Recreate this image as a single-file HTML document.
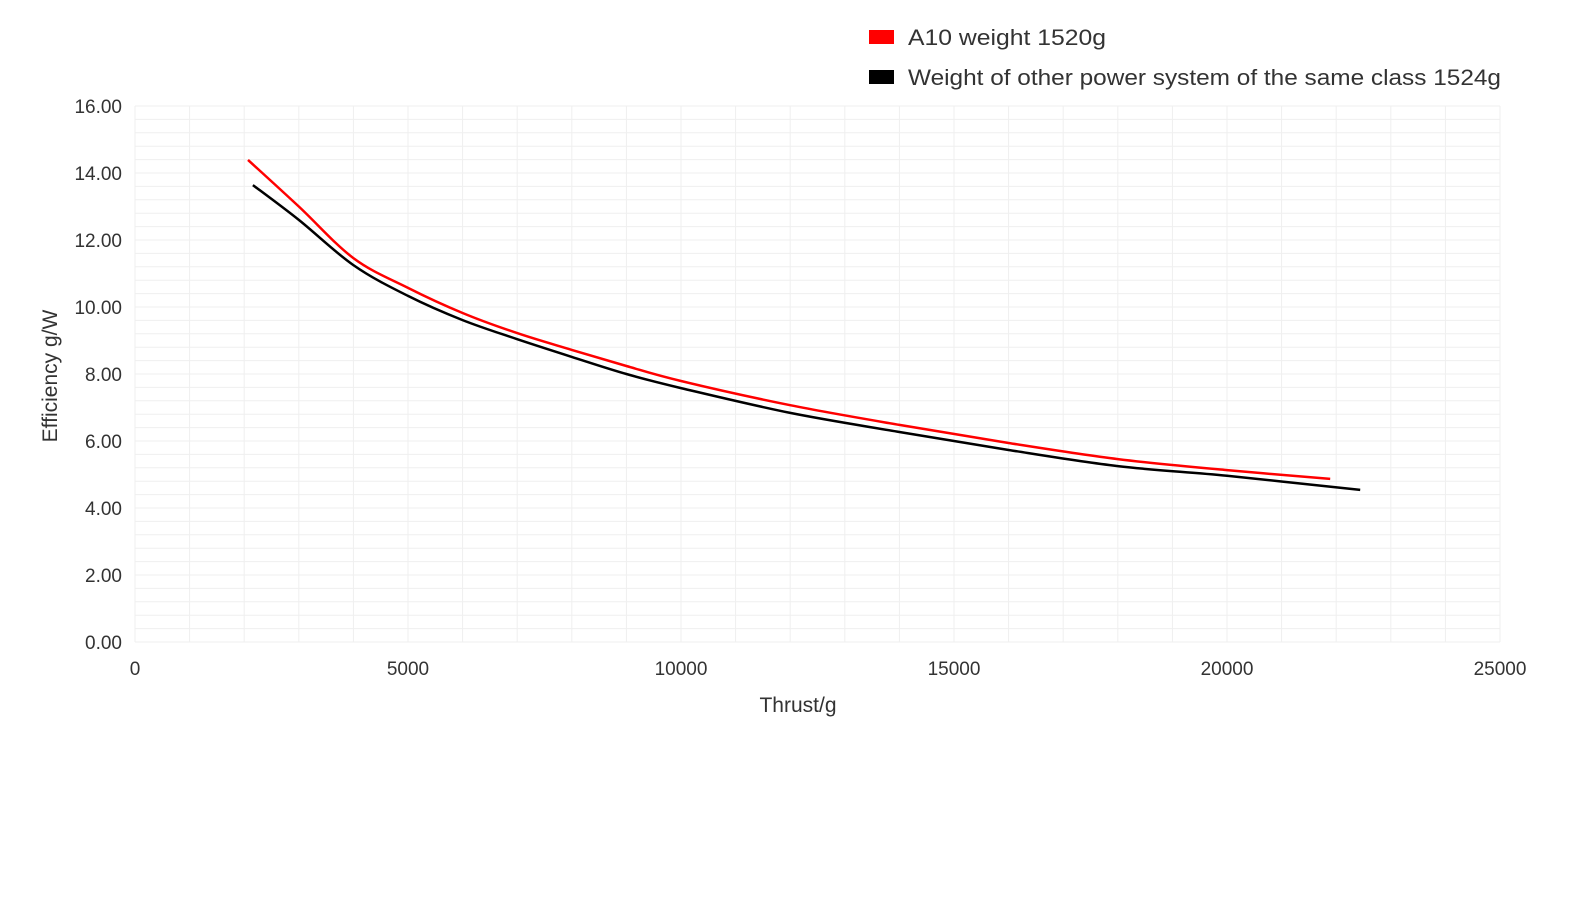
<!DOCTYPE html>
<html><head><meta charset="utf-8"><style>
body{margin:0;background:#fff;}
svg{display:block;font-family:"Liberation Sans",sans-serif;}
</style></head><body>
<svg id="chart" width="1592" height="905">
<g id="grid"></g>
<g id="axes"></g>
<g id="series"></g>
<text x="798" y="712" text-anchor="middle" font-size="21" fill="#333">Thrust/g</text>
<text transform="translate(57,376) rotate(-90)" text-anchor="middle" font-size="21" fill="#333">Efficiency g/W</text>
<g>
<g><rect x="869" y="30" width="25" height="14" fill="#ff0000"/><text x="908" y="45" font-size="22" fill="#333" textLength="198" lengthAdjust="spacingAndGlyphs">A10 weight 1520g</text></g>
<g><rect x="869" y="70" width="25" height="14" fill="#000"/><text x="908" y="85" font-size="22" fill="#333" textLength="593" lengthAdjust="spacingAndGlyphs">Weight of other power system of the same class 1524g</text></g>
</g>
</svg>
<script>
const xTicks=[0,5000,10000,15000,20000,25000];
const yTicks=[0,2,4,6,8,10,12,14,16];
const redX=[2070,3000,4000,5000,6000,7000,8000,9000,10000,12000,14000,16000,18000,20000,21890];
const redY=[14.39,13.0,11.46,10.57,9.82,9.22,8.72,8.24,7.79,7.07,6.48,5.94,5.46,5.13,4.87];
const blackX=[2160,3000,4000,5000,6000,7000,8000,9000,10000,12000,14000,16000,18000,20000,22440];
const blackY=[13.64,12.6,11.25,10.33,9.61,9.04,8.51,8.0,7.58,6.84,6.27,5.73,5.25,4.96,4.54];
const X0=135,X1=1500,Y0=642,Y1=106,XMAX=25000,YMAX=16;
const sx=v=>X0+(X1-X0)*v/XMAX, sy=v=>Y0-(Y0-Y1)*v/YMAX;
const NS="http://www.w3.org/2000/svg";
const grid=document.getElementById('grid'),axes=document.getElementById('axes'),series=document.getElementById('series');
function mk(t,a,p){const e=document.createElementNS(NS,t);for(const k in a)e.setAttribute(k,a[k]);p.appendChild(e);return e;}
for(let v=0;v<=XMAX;v+=1000){const l=mk('line',{x1:sx(v),x2:sx(v),y1:Y1,y2:Y0,stroke:'#efefef','stroke-width':1},grid);

}
for(let v=0;v<=YMAX+0.001;v+=0.4){const l=mk('line',{x1:X0,x2:X1,y1:sy(v),y2:sy(v),stroke:'#efefef','stroke-width':1},grid);

}
xTicks.forEach(v=>{const t=mk('text',{x:sx(v),y:675,'text-anchor':'middle','font-size':19,fill:'#333'},axes);t.textContent=v;

});
yTicks.forEach(v=>{const t=mk('text',{x:122,y:sy(v)+7,'text-anchor':'end','font-size':19,fill:'#333'},axes);t.textContent=v.toFixed(2);

});
function line(xs,ys,c,name){
const P=xs.map((x,i)=>[sx(x),sy(ys[i])]);
let d='M'+P[0][0].toFixed(1)+','+P[0][1].toFixed(1);
for(let i=0;i<P.length-1;i++){const p0=P[i-1]||P[i],p1=P[i],p2=P[i+1],p3=P[i+2]||P[i+1];
const c1=[p1[0]+(p2[0]-p0[0])/6,p1[1]+(p2[1]-p0[1])/6],c2=[p2[0]-(p3[0]-p1[0])/6,p2[1]-(p3[1]-p1[1])/6];
d+='C'+c1[0].toFixed(1)+','+c1[1].toFixed(1)+' '+c2[0].toFixed(1)+','+c2[1].toFixed(1)+' '+p2[0].toFixed(1)+','+p2[1].toFixed(1);}
const p=mk('path',{d:d,fill:'none',stroke:c,'stroke-width':2.5,'stroke-linejoin':'round'},series);

}
line(redX,redY,'#ff0000','a10-line');
line(blackX,blackY,'#000000','other-system-line');
</script>
</body></html>
